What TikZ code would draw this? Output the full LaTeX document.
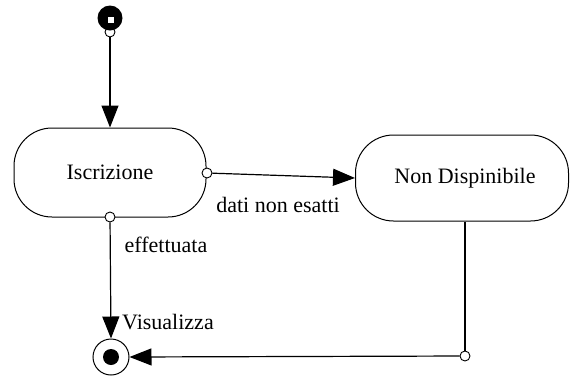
\documentclass[tikz,border=0pt]{standalone}
\usepackage{fontspec}
\setmainfont{Liberation Serif}
\usetikzlibrary{arrows.meta}
\begin{document}
\begin{tikzpicture}[x=1pt,y=1pt,
  state/.style={draw, line width=1pt, rounded corners=38pt, minimum width=192pt, minimum height=89pt, inner sep=0pt, font=\fontsize{22}{26}\selectfont},
  port/.style={draw, circle, fill=white, inner sep=0pt, minimum size=10pt, line width=0.9pt},
  lbl/.style={inner sep=0pt, font=\fontsize{22}{26}\selectfont},
  conn/.style={line width=1.2pt},
  tr/.style={conn, -{Triangle[length=22pt,width=17pt]}}]
\useasboundingbox (0,0) rectangle (574,-376);
% initial state
\node[port] (p0) at (110,-32) {};
\node[circle, fill=black, inner sep=0pt, minimum size=25pt] (init) at (110,-18) {};
\node[fill=white, inner sep=0pt, minimum size=6pt] (hole) at (111,-20) {};
% states
\node[state] (isc) at (110,-172.5) {Iscrizione};
\node[state, minimum width=213pt, minimum height=86pt] (nd) at (462,-178) {\hspace*{6pt}Non Dispinibile};
% final state
\node[draw, circle, line width=1pt, inner sep=0pt, minimum size=36pt] (fin) at (111,-357) {};
\node[circle, fill=black, inner sep=0pt, minimum size=16pt] (fincore) at (111,-357) {};
% ports
\coordinate (prc) at (207,-173);
\coordinate (pbc) at (110,-217);
\coordinate (pnc) at (465,-356);
% connectors
\draw[tr] (p0) -- (isc.north);
\node[port] (pr) at (prc) {};
\node[port] (pb) at (pbc) {};
\draw[tr] (pr) -- (nd.west);
\draw[tr] (pb) -- (fin.north);
\draw[line width=2pt] (pnc |- nd.south) -- (pnc);
\node[port] (pn) at (pnc) {};
\draw[tr] (pn) -- (fin.east);
% labels
\node[lbl] (l1) at (278,-205) {dati non esatti};
\node[lbl] (l2) at (166,-245) {effettuata};
\node[lbl] (l3) at (168,-322) {Visualizza};
\end{tikzpicture}
\end{document}
